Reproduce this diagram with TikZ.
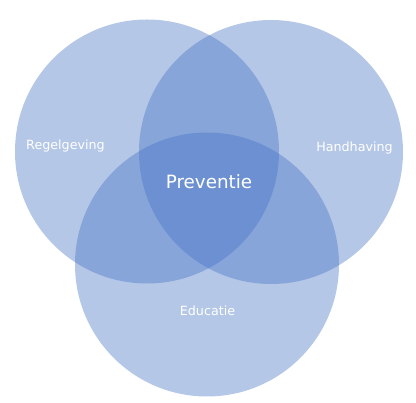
\documentclass[tikz,border=0pt]{standalone}
\usepackage{fontspec}
\setmainfont{DejaVu Sans}
\usepackage{tikz}
\usetikzlibrary{positioning}
\definecolor{cB}{RGB}{68,114,196}

\begin{document}
\begin{tikzpicture}[x=1pt, y=-1pt,
    set/.style={circle, fill=cB, fill opacity=0.4, inner sep=0pt, minimum size=264pt},
    lbl/.style={text=white, font=\fontsize{12.7}{14}\selectfont}]

    \useasboundingbox (0, 0) rectangle (416, 403);

    % --- The three sets ---
    \foreach \x/\y/\name in {
        147/151.5/regC,
        271/152/handC,
        207/264.5/eduC%
    } {
        \node[set] (\name) at (\x, \y) {};
    }

    % --- Labels ---
    \node[lbl] (reg) at (65.5, 146) {Regelgeving};
    \node[lbl] (hand) at (354.5, 148) {Handhaving};
    \node[lbl] (edu) at (207.5, 310.5) {Educatie};
    \node[lbl, font=\fontsize{18.3}{21}\selectfont] (prev) at (209, 182) {Preventie};

\end{tikzpicture}
\end{document}
